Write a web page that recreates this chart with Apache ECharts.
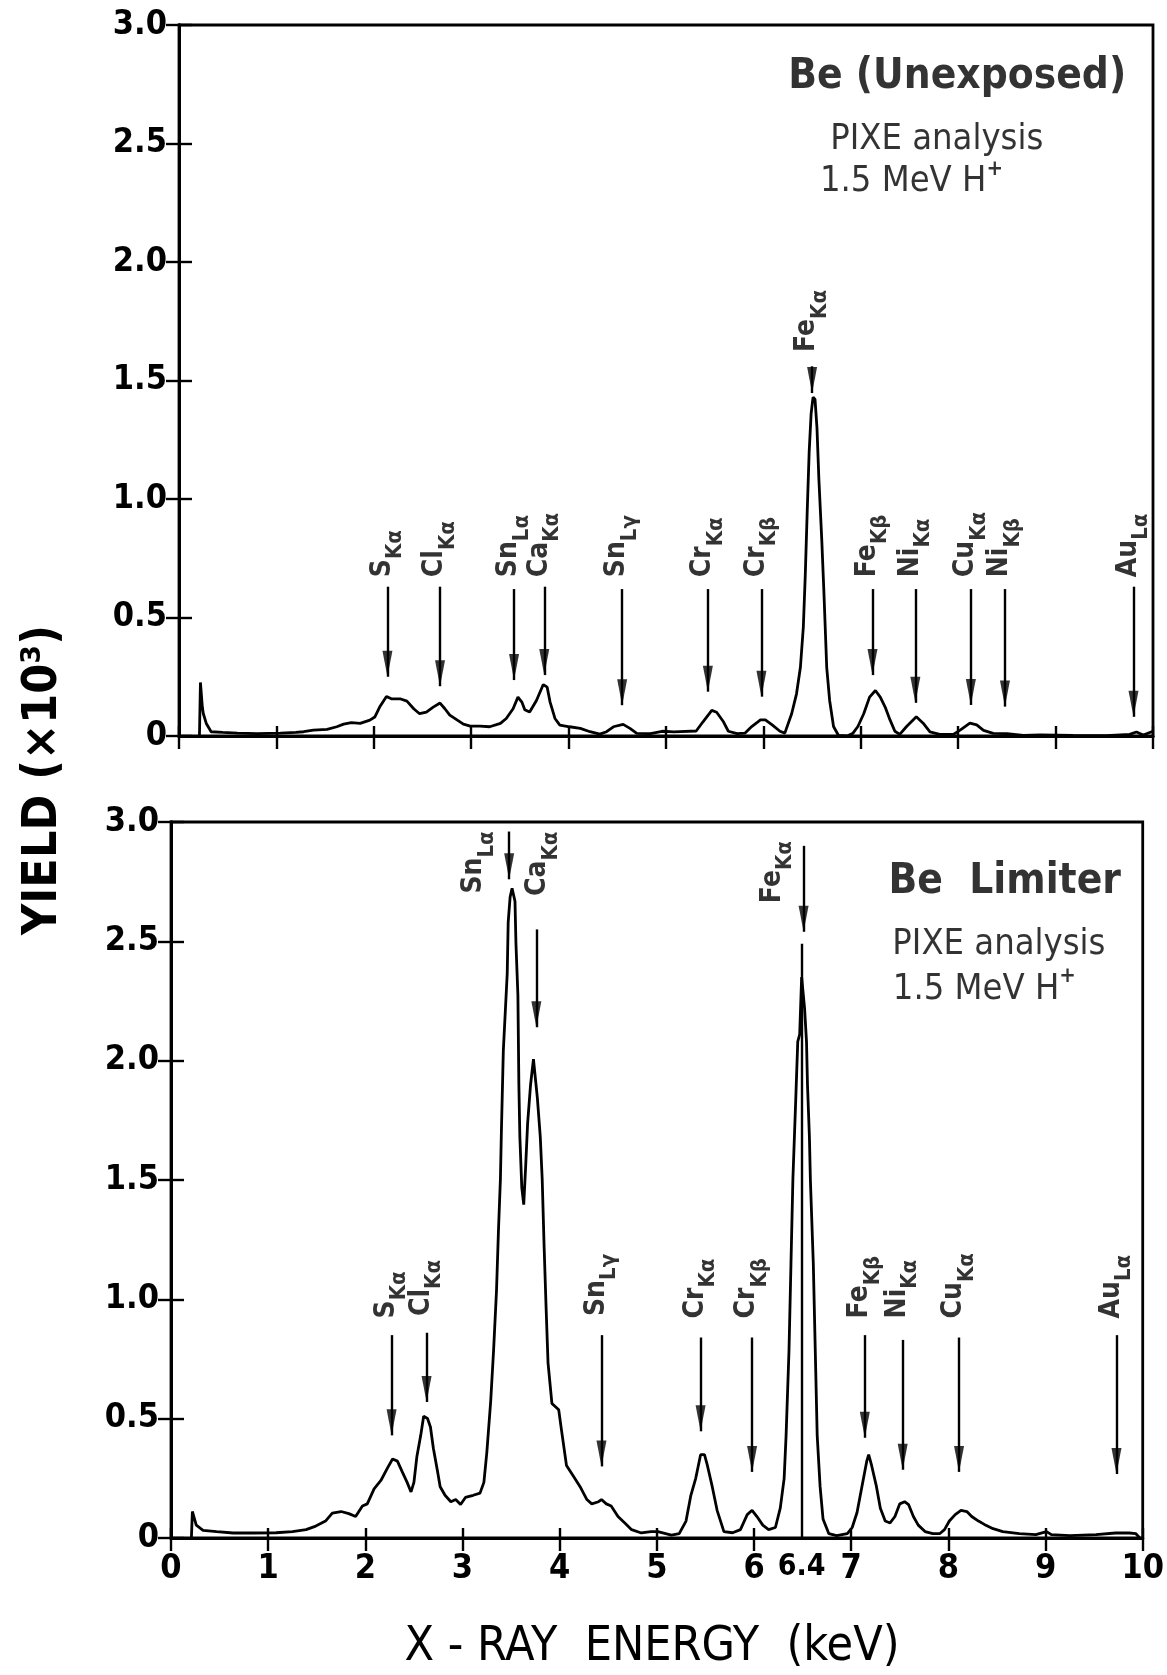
<!DOCTYPE html>
<html><head><meta charset="utf-8">
<script src="https://cdn.jsdelivr.net/npm/echarts@6/dist/echarts.min.js"></script>
<style>html,body{margin:0;padding:0;background:#fff}#c{width:1167px;height:1675px}</style>
</head><body><div id="c"></div>
<script>
const FONT = "'Liberation Sans Narrow','DejaVu Sans Condensed','DejaVu Sans',sans-serif";

// ---------- Top spectrum: Be (Unexposed) ----------
const topEnergy = [0.21,0.22,0.24,0.25,0.28,0.33,0.45,0.60,0.80,1.04,1.20,1.28,1.38,1.52,1.62,1.69,1.77,1.86,1.96,2.01,2.06,2.13,2.18,2.27,2.34,2.41,2.47,2.54,2.61,2.68,2.73,2.78,2.85,2.92,2.99,3.09,3.19,3.30,3.36,3.43,3.48,3.52,3.55,3.60,3.67,3.74,3.78,3.81,3.86,3.91,4.01,4.12,4.22,4.32,4.39,4.46,4.56,4.63,4.70,4.84,4.96,5.08,5.31,5.38,5.47,5.52,5.59,5.64,5.73,5.81,5.88,5.97,6.02,6.09,6.17,6.22,6.29,6.34,6.38,6.41,6.43,6.45,6.47,6.49,6.51,6.53,6.55,6.57,6.60,6.62,6.65,6.68,6.72,6.77,6.86,6.92,6.97,7.03,7.09,7.15,7.20,7.25,7.30,7.35,7.40,7.47,7.57,7.64,7.71,7.81,7.95,8.02,8.12,8.19,8.26,8.36,8.50,8.67,8.84,9.18,9.52,9.76,9.83,9.90,10.0];
const topYield  = [0.0,0.226,0.12,0.094,0.053,0.018,0.015,0.012,0.010,0.012,0.015,0.018,0.025,0.028,0.039,0.050,0.056,0.053,0.067,0.080,0.122,0.167,0.157,0.157,0.147,0.115,0.094,0.101,0.122,0.139,0.115,0.088,0.069,0.050,0.042,0.042,0.039,0.053,0.074,0.115,0.164,0.143,0.111,0.101,0.150,0.217,0.206,0.143,0.074,0.046,0.039,0.032,0.018,0.008,0.018,0.039,0.049,0.032,0.011,0.010,0.020,0.017,0.021,0.060,0.108,0.100,0.060,0.020,0.010,0.012,0.040,0.068,0.068,0.047,0.020,0.012,0.094,0.178,0.29,0.46,0.68,0.95,1.20,1.36,1.43,1.42,1.30,1.08,0.82,0.62,0.29,0.15,0.040,0.003,0.0,0.012,0.040,0.094,0.164,0.192,0.164,0.122,0.068,0.020,0.007,0.040,0.081,0.054,0.017,0.007,0.007,0.025,0.054,0.047,0.024,0.011,0.010,0.003,0.005,0.003,0.002,0.007,0.017,0.004,0.02];

// ---------- Bottom spectrum: Be Limiter ----------
const botEnergy = [0.21,0.22,0.26,0.33,0.47,0.64,0.84,1.08,1.25,1.39,1.49,1.59,1.66,1.75,1.83,1.90,1.97,2.02,2.09,2.16,2.23,2.28,2.33,2.38,2.43,2.47,2.50,2.53,2.57,2.60,2.64,2.67,2.70,2.74,2.77,2.82,2.88,2.93,2.98,3.03,3.11,3.18,3.22,3.25,3.29,3.32,3.35,3.37,3.39,3.40,3.42,3.46,3.47,3.49,3.51,3.54,3.55,3.57,3.58,3.59,3.61,3.63,3.65,3.67,3.70,3.73,3.75,3.77,3.80,3.82,3.84,3.86,3.88,3.92,3.99,4.02,4.07,4.14,4.21,4.28,4.33,4.40,4.43,4.48,4.53,4.60,4.67,4.74,4.84,4.94,5.01,5.15,5.23,5.30,5.35,5.40,5.45,5.49,5.52,5.57,5.62,5.69,5.78,5.86,5.93,5.98,6.03,6.09,6.15,6.22,6.27,6.31,6.33,6.36,6.38,6.40,6.43,6.45,6.47,6.49,6.50,6.52,6.54,6.55,6.57,6.58,6.61,6.63,6.65,6.68,6.71,6.77,6.85,6.96,7.01,7.06,7.11,7.16,7.18,7.21,7.26,7.30,7.35,7.40,7.45,7.50,7.55,7.59,7.64,7.69,7.76,7.84,7.91,7.96,8.01,8.07,8.13,8.19,8.24,8.31,8.37,8.46,8.56,8.73,8.90,9.01,9.06,9.25,9.52,9.72,9.86,9.93,9.97];
const botYield  = [0.0,0.111,0.054,0.032,0.027,0.021,0.021,0.022,0.027,0.035,0.050,0.071,0.104,0.111,0.102,0.090,0.134,0.143,0.206,0.241,0.295,0.331,0.322,0.277,0.233,0.193,0.233,0.340,0.430,0.510,0.501,0.465,0.376,0.286,0.215,0.179,0.152,0.161,0.140,0.170,0.179,0.188,0.233,0.358,0.573,0.788,1.038,1.289,1.504,1.701,2.042,2.364,2.579,2.686,2.722,2.668,2.490,2.274,1.898,1.683,1.468,1.397,1.558,1.737,1.898,2.006,2.006,1.845,1.683,1.504,1.218,0.967,0.734,0.564,0.537,0.448,0.304,0.260,0.215,0.161,0.143,0.152,0.161,0.143,0.134,0.090,0.063,0.035,0.021,0.027,0.027,0.012,0.018,0.071,0.179,0.250,0.349,0.349,0.304,0.215,0.116,0.027,0.022,0.035,0.098,0.116,0.090,0.054,0.035,0.044,0.125,0.250,0.430,0.788,1.146,1.504,1.845,2.080,2.110,2.350,2.355,2.220,2.080,1.900,1.680,1.500,1.150,0.790,0.430,0.215,0.080,0.018,0.010,0.018,0.044,0.107,0.215,0.322,0.349,0.304,0.215,0.125,0.071,0.063,0.090,0.143,0.152,0.140,0.090,0.054,0.027,0.018,0.018,0.035,0.071,0.098,0.116,0.111,0.090,0.071,0.057,0.039,0.027,0.018,0.014,0.027,0.014,0.010,0.014,0.021,0.021,0.018,0.0];

// ---------- Peak identifications (top) ----------
const topPeakEl   = ['S','Cl','Sn','Ca','Sn','Cr','Cr','Fe','Fe','Ni','Cu','Ni','Au'];
const topPeakLine = ['Kα','Kα','Lα','Kα','Lγ','Kα','Kβ','Kα','Kβ','Kα','Kα','Kβ','Lα'];
const topArrowX   = [2.14,2.68,3.44,3.75,4.55,5.43,5.98,6.50,7.12,7.56,8.13,8.48,9.80];
const topArrowTop = [0.63,0.63,0.62,0.63,0.62,0.62,0.62,1.56,0.62,0.62,0.62,0.62,0.63];
const topArrowTip = [0.25,0.21,0.236,0.257,0.13,0.187,0.166,1.447,0.257,0.14,0.131,0.124,0.081];
const topLabelX   = [2.14,2.68,3.44,3.75,4.55,5.43,5.98,6.50,7.12,7.56,8.13,8.48,9.80];
const topLabelY   = [0.67,0.67,0.67,0.67,0.67,0.67,0.67,1.62,0.67,0.67,0.67,0.67,0.67];

// ---------- Peak identifications (bottom) ----------
const botPeakEl   = ['S','Cl','Sn','Ca','Sn','Cr','Cr','Fe','Fe','Ni','Cu','Au'];
const botPeakLine = ['Kα','Kα','Lα','Kα','Lγ','Kα','Kβ','Kα','Kβ','Kα','Kα','Lα'];
const botArrowX   = [2.27,2.63,3.48,3.76,4.43,5.45,5.98,6.51,7.14,7.53,8.11,9.73];
const botArrowTop = [0.85,0.86,2.96,2.55,0.85,0.84,0.84,2.90,0.85,0.83,0.84,0.85];
const botArrowTip = [0.43,0.57,2.76,2.14,0.30,0.447,0.277,2.54,0.42,0.286,0.277,0.268];
const botLabelX   = [2.27,2.63,3.17,3.83,4.43,5.45,5.98,6.24,7.14,7.53,8.11,9.73];
const botLabelY   = [0.92,0.93,2.70,2.69,0.93,0.92,0.92,2.66,0.92,0.92,0.92,0.92];

// Fe K-alpha marker line drawn at the position shown in the figure, labelled 6.4
const markerX = 6.49, markerTop = 2.49, markerText = '6.4';

// ---------- Text blocks ----------
const topTitle = ['Be (Unexposed)','PIXE analysis','1.5 MeV H'];
const topTitleX = [7.99,7.78,7.52];
const topTitleY = [2.78,2.53,2.35];
const botTitle = ['Be  Limiter','PIXE analysis','1.5 MeV H'];
const botTitleX = [8.58,8.52,8.37];
const botTitleY = [2.75,2.50,2.31];

const BLACK = '#000';
function fmtY(v){ return v === 0 ? '0' : v.toFixed(1); }

function mkX(grid, pos, labels){
  return {
    type:'value', gridIndex:grid, position:pos, min:0, max:10, interval:1,
    axisLine:{show:true, lineStyle:{color:BLACK, width:2.8}},
    axisTick:{show:true, inside:true, length: pos==='top'?13:10, lineStyle:{color:BLACK, width:2.4}},
    axisLabel:{show:labels, color:BLACK, fontFamily:FONT, fontWeight:'bold', fontSize:34, margin:14},
    splitLine:{show:false}
  };
}
function mkY(grid, pos, labels){
  return {
    type:'value', gridIndex:grid, position:pos, min:0, max:3, interval:0.5,
    axisLine:{show:true, lineStyle:{color:BLACK, width:2.8}},
    axisTick:{show:true, inside:true, length:13, lineStyle:{color:BLACK, width:2.4}},
    axisLabel:{show:labels, color:BLACK, fontFamily:FONT, fontWeight:'bold', fontSize:34, margin:12, formatter:fmtY},
    splitLine:{show:false}
  };
}

const peakRich = {
  m:{fontFamily:FONT, fontWeight:'bold', fontSize:28, color:BLACK, lineHeight:38, verticalAlign:'top'},
  s:{fontFamily:FONT, fontWeight:'bold', fontSize:22, color:BLACK, verticalAlign:'bottom'}
};

function arrowLines(xs, tops, tips){
  return xs.map((x,i)=>[{coord:[x, tops[i]]},{coord:[x, tips[i]]}]);
}
function headSeries(xi, yi, xs, tips){
  return {
    type:'scatter', xAxisIndex:xi, yAxisIndex:yi, silent:true, z:5,
    symbol:'triangle', symbolRotate:180, symbolSize:[10,26], symbolOffset:[0,-13],
    itemStyle:{color:BLACK}, data: xs.map((x,i)=>[x, tips[i]])
  };
}
function labelSeries(xi, yi, xs, ys, els, lines){
  return {
    type:'scatter', xAxisIndex:xi, yAxisIndex:yi, symbolSize:1, silent:true,
    itemStyle:{color:'rgba(0,0,0,0)'},
    data: xs.map((x,i)=>({value:[x, ys[i]], el:els[i], ln:lines[i]})),
    label:{show:true, position:'inside', rotate:90, align:'left', verticalAlign:'middle', color:BLACK,
      formatter:(p)=>'{m|'+p.data.el+'}{s|'+p.data.ln+'}', rich:peakRich}
  };
}
function titleSeries(xi, yi, xs, ys, texts){
  return {
    type:'scatter', xAxisIndex:xi, yAxisIndex:yi, symbolSize:1, silent:true,
    itemStyle:{color:'rgba(0,0,0,0)'},
    data: xs.map((x,i)=>({value:[x, ys[i]], idx:i, txt:texts[i]})),
    label:{show:true, position:'inside', align:'center', verticalAlign:'middle', color:BLACK,
      formatter:(p)=>{
        if (p.data.idx===0) return '{b|'+p.data.txt+'}';
        if (p.data.idx===1) return '{n|'+p.data.txt+'}';
        return '{n|'+p.data.txt+'}{sup|+}';
      },
      rich:{
        b:{fontFamily:FONT, fontWeight:'bold', fontSize:42, color:BLACK},
        n:{fontFamily:FONT, fontSize:36, color:BLACK, lineHeight:42, verticalAlign:'bottom'},
        sup:{fontFamily:FONT, fontWeight:'bold', fontSize:22, color:BLACK, verticalAlign:'top'}
      }}
  };
}
const arrowStyle = {
  silent:true, symbol:['none','none'],
  lineStyle:{color:BLACK, width:2.4, type:'solid'}, label:{show:false}, animation:false
};

const option = {
  animation:false,
  backgroundColor:'#fff',
  grid:[
    {left:179, top:25, width:974, height:711, show:true, borderColor:BLACK, borderWidth:2.8, containLabel:false},
    {left:171, top:822, width:976, height:716, show:true, borderColor:BLACK, borderWidth:2.8, containLabel:false}
  ],
  xAxis:[ mkX(0,'bottom',false), mkX(0,'top',false), mkX(1,'bottom',true), mkX(1,'top',false) ],
  yAxis:[ mkY(0,'left',true), mkY(0,'right',false), mkY(1,'left',true), mkY(1,'right',false) ],
  series:[
    { type:'line', xAxisIndex:0, yAxisIndex:0, showSymbol:false, symbol:'none', silent:true,
      lineStyle:{color:BLACK, width:2.8}, data: topEnergy.map((e,i)=>[e, topYield[i]]),
      markLine: Object.assign({data: arrowLines(topArrowX, topArrowTop, topArrowTip)}, arrowStyle) },
    { type:'line', xAxisIndex:2, yAxisIndex:2, showSymbol:false, symbol:'none', silent:true,
      lineStyle:{color:BLACK, width:2.8}, data: botEnergy.map((e,i)=>[e, botYield[i]]),
      markLine: Object.assign({data: arrowLines(botArrowX, botArrowTop, botArrowTip)}, arrowStyle) },
    headSeries(0,0, topArrowX, topArrowTip),
    headSeries(2,2, botArrowX, botArrowTip),
    labelSeries(0,0, topLabelX, topLabelY, topPeakEl, topPeakLine),
    Object.assign(labelSeries(2,2, botLabelX, botLabelY, botPeakEl, botPeakLine), {
      markLine:{ silent:true, symbol:['none','none'], animation:false,
        lineStyle:{color:BLACK, width:2.4, type:'solid'},
        label:{show:true, position:'start', distance:14, formatter:markerText, color:BLACK,
          fontFamily:FONT, fontWeight:'bold', fontSize:30},
        data:[[{coord:[markerX,0]},{coord:[markerX, markerTop]}]] }
    }),
    titleSeries(0,0, topTitleX, topTitleY, topTitle),
    titleSeries(2,2, botTitleX, botTitleY, botTitle)
  ],
  graphic:[
    { type:'text', x:44, y:780, rotation:Math.PI/2, style:{text:'YIELD (×10³)', fill:BLACK,
      font:"bold 48px "+FONT, align:'center', verticalAlign:'middle'} },
    { type:'text', x:652, y:1648, style:{text:'X - RAY  ENERGY  (keV)', fill:BLACK,
      font:"48px "+FONT, align:'center', verticalAlign:'middle'} }
  ]
};
const chart = echarts.init(document.getElementById('c'), null, {renderer:'canvas'});
chart.setOption(option);
</script></body></html>
